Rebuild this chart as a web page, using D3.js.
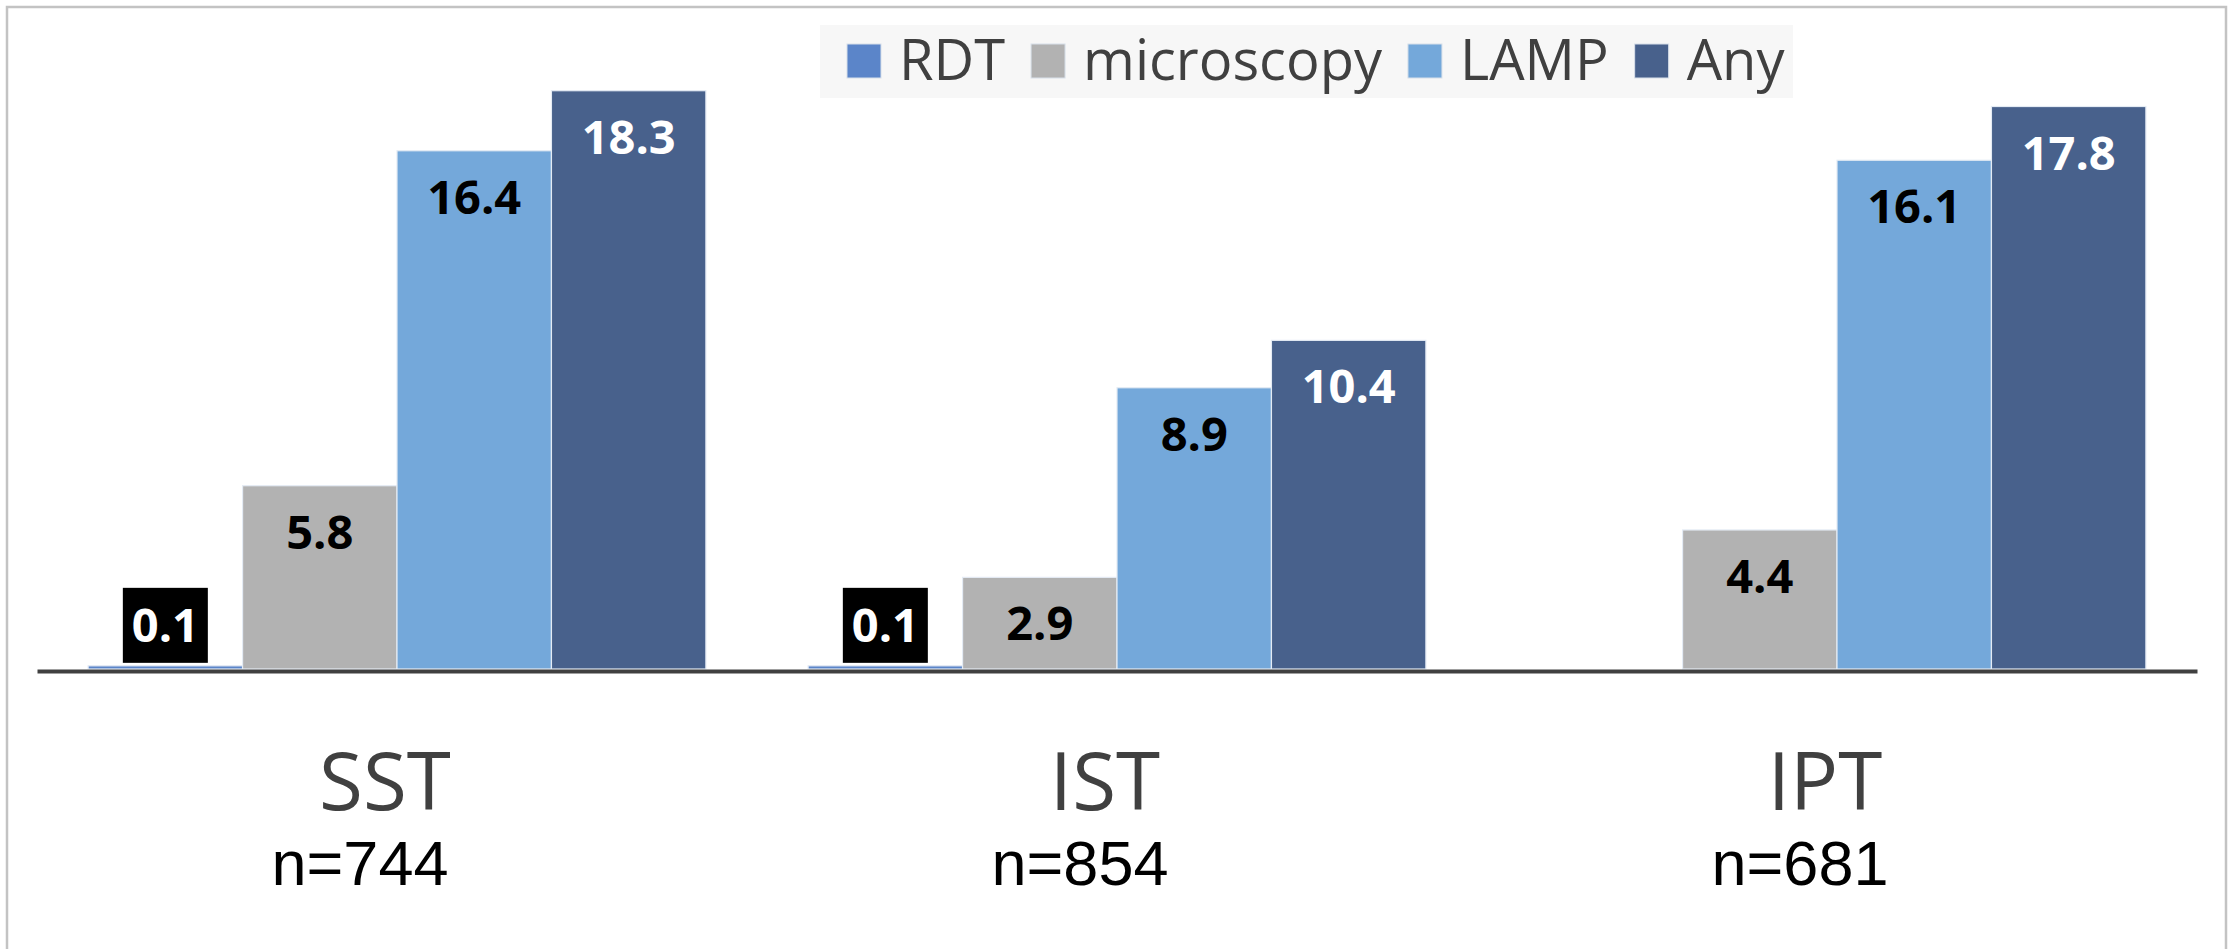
<!DOCTYPE html>
<html>
<head>
<meta charset="utf-8">
<script src="https://cdn.jsdelivr.net/npm/d3@7"></script>
<style>
  html, body { margin: 0; padding: 0; background: #fff; }
  svg { display: block; }
</style>
</head>
<body>
<svg width="2237" height="949"></svg>
<script>
const categories = ["SST", "IST", "IPT"];
const sampleSizes = ["n=744", "n=854", "n=681"];
const seriesNames = ["RDT", "microscopy", "LAMP", "Any"];
const rdt = [0.1, 0.1, null];
const microscopy = [5.8, 2.9, 4.4];
const lamp = [16.4, 8.9, 16.1];
const anyTest = [18.3, 10.4, 17.8];

const colors = ["#5b85c9", "#b2b2b2", "#74a8da", "#48618c"];
const labelColors = ["#fff", "#000", "#000", "#fff"];
const seriesValues = [rdt, microscopy, lamp, anyTest];

const svg = d3.select("svg");

// outer frame
svg.append("rect")
  .attr("x", 7).attr("y", 7)
  .attr("width", 2219).attr("height", 960)
  .attr("fill", "#fff")
  .attr("stroke", "#c3c3c3")
  .attr("stroke-width", 2.5);

const x0 = d3.scaleBand()
  .domain(categories)
  .range([37, 2197])
  .paddingInner(0.142)
  .paddingOuter(0.071);

const x1 = d3.scaleBand()
  .domain(seriesNames)
  .range([0, x0.bandwidth()]);

const y = d3.scaleLinear().domain([0, 20]).range([669, 37]);

const rows = categories.map((c, i) => ({
  cat: c,
  vals: seriesNames.map((s, j) => ({ key: s, idx: j, value: seriesValues[j][i] }))
}));

const groups = svg.selectAll("g.grp")
  .data(rows)
  .join("g")
  .attr("class", "grp")
  .attr("transform", d => `translate(${x0(d.cat)},0)`);

groups.selectAll("rect")
  .data(d => d.vals.filter(v => v.value != null))
  .join("rect")
  .attr("x", d => x1(d.key))
  .attr("y", d => y(d.value))
  .attr("width", x1.bandwidth())
  .attr("height", d => y(0) - y(d.value))
  .attr("fill", d => colors[d.idx])
  .attr("stroke", "#e4ebf4")
  .attr("stroke-width", 1.2);

// value labels
const labelFont = "'Open Sans', sans-serif";
groups.each(function (d) {
  const g = d3.select(this);
  d.vals.filter(v => v.value != null).forEach(v => {
    const cx = x1(v.key) + x1.bandwidth() / 2;
    if (v.idx === 0) {
      // tiny value: black box sitting above the bar
      g.append("rect")
        .attr("x", cx - 42.5)
        .attr("y", y(v.value) - 78)
        .attr("width", 85)
        .attr("height", 75)
        .attr("fill", "#000");
      g.append("text")
        .attr("x", cx)
        .attr("y", y(v.value) - 24)
        .attr("text-anchor", "middle")
        .attr("font-family", labelFont)
        .attr("font-weight", 700)
        .attr("font-size", 47)
        .attr("fill", "#fff")
        .text(v.value.toFixed(1));
    } else {
      g.append("text")
        .attr("x", cx)
        .attr("y", y(v.value) + 63)
        .attr("text-anchor", "middle")
        .attr("font-family", labelFont)
        .attr("font-weight", 700)
        .attr("font-size", 47)
        .attr("fill", labelColors[v.idx])
        .text(v.value.toFixed(1));
    }
  });
});

// baseline axis
const xAxis = svg.append("g")
  .attr("transform", `translate(0,${y(0) + 2})`)
  .call(d3.axisBottom(x0).tickSize(0).tickFormat(""));
xAxis.select(".domain")
  .attr("stroke", "#404040")
  .attr("stroke-width", 4);

// category labels
svg.selectAll("text.cat")
  .data(categories)
  .join("text")
  .attr("class", "cat")
  .attr("x", d => x0(d) + x0.bandwidth() / 2 - 12)
  .attr("y", 810)
  .attr("text-anchor", "middle")
  .attr("font-family", "'Open Sans', sans-serif")
  .attr("font-size", 80)
  .attr("fill", "#404040")
  .text(d => d);

svg.selectAll("text.nlab")
  .data(sampleSizes)
  .join("text")
  .attr("class", "nlab")
  .attr("x", (d, i) => x0(categories[i]) + x0.bandwidth() / 2 - 37)
  .attr("y", 885)
  .attr("text-anchor", "middle")
  .attr("font-family", "'Liberation Sans', Arial, sans-serif")
  .attr("font-size", 63)
  .attr("fill", "#000")
  .text(d => d);

// legend
const legend = svg.append("g");
legend.append("rect")
  .attr("x", 820).attr("y", 25)
  .attr("width", 973).attr("height", 73)
  .attr("fill", "#f7f7f7");

let lx = 847;
seriesNames.forEach((s, i) => {
  legend.append("rect")
    .attr("x", lx).attr("y", 44)
    .attr("width", 34).attr("height", 34)
    .attr("fill", colors[i])
    .attr("stroke", "#d8e0ea")
    .attr("stroke-width", 1);
  const t = legend.append("text")
    .attr("x", lx + 52)
    .attr("y", 80)
    .attr("font-family", "'Open Sans', sans-serif")
    .attr("font-size", 56)
    .attr("fill", "#404040")
    .text(s);
  lx += 52 + t.node().getComputedTextLength() + 26;
});
</script>
</body>
</html>
